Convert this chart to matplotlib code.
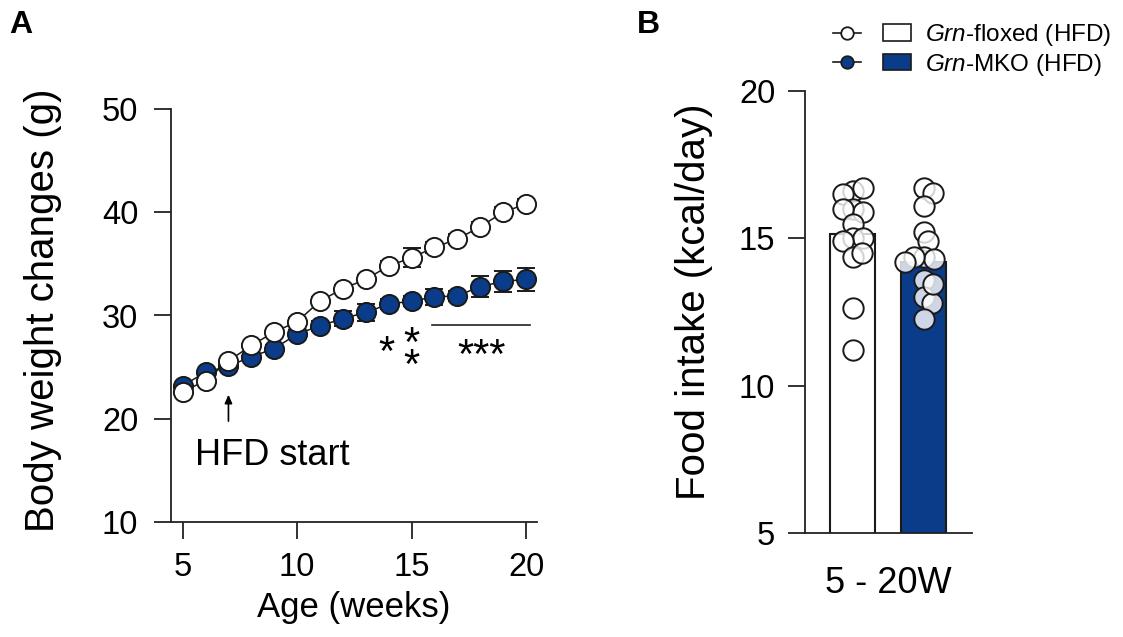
import matplotlib
matplotlib.use("Agg")
import matplotlib.pyplot as plt
from matplotlib.lines import Line2D
from matplotlib.patches import Patch
from matplotlib.legend_handler import HandlerTuple
import numpy as np

plt.rcParams['font.family'] = ['Liberation Sans', 'DejaVu Sans']
plt.rcParams['mathtext.fontset'] = 'custom'
plt.rcParams['mathtext.it'] = 'Liberation Sans:italic'
plt.rcParams['mathtext.rm'] = 'Liberation Sans'

# ---------------- data ----------------
weeks = [5, 6, 7, 8, 9, 10, 11, 12, 13, 14, 15, 16, 17, 18, 19, 20]
floxed_bw = [22.6, 23.7, 25.6, 27.1, 28.4, 29.4, 31.4, 32.6, 33.5, 34.8, 35.6, 36.6, 37.4, 38.6, 40.0, 40.8]
floxed_err = [0.3, 0.3, 0.3, 0.3, 0.3, 0.4, 0.4, 0.4, 0.4, 0.5, 0.9, 0.5, 0.5, 0.5, 0.5, 0.5]
mko_bw = [23.2, 24.5, 25.1, 26.0, 26.8, 28.2, 29.0, 29.7, 30.3, 31.1, 31.4, 31.8, 31.9, 32.8, 33.3, 33.5]
mko_err = [0.3, 0.3, 0.3, 0.3, 0.3, 0.4, 0.5, 0.7, 0.8, 0.5, 0.5, 0.8, 0.5, 1.0, 1.0, 1.1]

groups = ['Grn-floxed (HFD)', 'Grn-MKO (HFD)']
group_labels = ['$\\it{Grn}$-floxed (HFD)', '$\\it{Grn}$-MKO (HFD)']
intake_mean = [15.14, 14.2]
floxed_intake = [16.6, 16.7, 16.5, 16.0, 15.9, 16.0, 15.5, 15.0, 15.0, 14.9, 14.35, 14.5, 12.65, 11.2]
mko_intake = [16.7, 16.55, 16.1, 15.2, 14.9, 14.35, 14.3, 14.35, 14.2, 13.6, 13.0, 12.8, 12.25, 13.45]
bar_category = '5 - 20W'

blue = '#0b3c8a'
edge = '#1a1a1a'

W, H = 1123, 637
fig = plt.figure(figsize=(W / 100, H / 100), dpi=100)

def fpos(l, r, t, b):
    return [l / W, 1 - b / H, (r - l) / W, (b - t) / H]

tick_fs = 23.5
label_fs = 29

# ---------------- panel A ----------------
axA = fig.add_axes(fpos(171, 537, 109, 522))
ms = 13.8
axA.errorbar(weeks, mko_bw, yerr=mko_err, fmt='-o', color=edge, lw=1.1,
             markersize=ms, markerfacecolor=blue, markeredgecolor=edge, markeredgewidth=1.4,
             ecolor=edge, elinewidth=1.5, capsize=6.5, capthick=1.5, zorder=3)
axA.errorbar(weeks, floxed_bw, yerr=floxed_err, fmt='-o', color=edge, lw=1.1,
             markersize=ms, markerfacecolor='white', markeredgecolor=edge, markeredgewidth=1.4,
             ecolor=edge, elinewidth=1.5, capsize=6.5, capthick=1.5, zorder=4)
axA.set_xlim(4.49, 20.48)
axA.set_ylim(10, 50)
axA.set_xticks([5, 10, 15, 20])
axA.set_yticks([10, 20, 30, 40, 50])
for s in ['top', 'right']:
    axA.spines[s].set_visible(False)
for s in ['left', 'bottom']:
    axA.spines[s].set_linewidth(1.3)
    axA.spines[s].set_color('#222222')
axA.tick_params(axis='both', direction='out', length=12.5, width=1.3, color='#222222',
                labelsize=tick_fs)
axA.tick_params(axis='y', pad=11)
axA.tick_params(axis='x', pad=9)
axA.set_xlabel('Age (weeks)', fontsize=25, labelpad=6)
axA.set_ylabel('Body weight changes (g)', fontsize=label_fs)
axA.yaxis.set_label_coords(-0.298, 0.513)

# annotations
axA.annotate('', xy=(7, 22.6), xytext=(7, 19.5),
             arrowprops=dict(arrowstyle='-|>,head_length=0.5,head_width=0.22', color='black', lw=1.2))
axA.text(5.54, 16.4, 'HFD start', fontsize=26, ha='left', va='center')
axA.plot([15.89, 20.17], [29.08, 29.08], color='#222222', lw=1.2)
axA.text(18.07, 26.0, '***', fontsize=30, ha='center', va='center')
axA.text(13.9, 26.3, '*', fontsize=30, ha='center', va='center')
axA.text(15.0, 26.1, '*\n*', fontsize=30, ha='center', va='center', linespacing=0.42)

# ---------------- panel B ----------------
axB = fig.add_axes(fpos(805, 972, 91, 533))
xpos = [0, 1]
bw = 45 / 71
axB.bar(xpos[0], intake_mean[0], width=bw, color='white', edgecolor=edge, linewidth=1.5, zorder=2)
axB.bar(xpos[1], intake_mean[1], width=bw, color=blue, edgecolor=edge, linewidth=1.5, zorder=2)

def swarm_offsets(values, px_y, px_x, min_d, step=1.0):
    placed = []
    offs = []
    for v in values:
        y = v * px_y
        k = 0
        while True:
            cands = [0.0] if k == 0 else [k * step, -k * step]
            found = None
            for c in cands:
                if all((c - px) ** 2 + (y - py) ** 2 >= min_d ** 2 for px, py in placed):
                    found = c
                    break
            if found is not None:
                placed.append((found, y))
                offs.append(found / px_x)
                break
            k += 1
    return offs

px_y = 442 / 15.0
px_x = 71.0
for i, vals in enumerate([floxed_intake, mko_intake]):
    offs = swarm_offsets(vals, px_y, px_x, 9.5)
    axB.scatter(np.array(offs) + xpos[i], vals, s=215, facecolor=(1, 1, 1, 0.8),
                edgecolor=edge, linewidth=1.4, zorder=5, clip_on=False)

axB.set_xlim(-0.669, 1.683)
axB.set_ylim(5, 20)
axB.set_yticks([5, 10, 15, 20])
axB.set_xticks([0.5])
axB.set_xticklabels([bar_category])
for s in ['top', 'right']:
    axB.spines[s].set_visible(False)
for s in ['left', 'bottom']:
    axB.spines[s].set_linewidth(1.3)
    axB.spines[s].set_color('#222222')
axB.tick_params(axis='y', direction='out', length=12.5, width=1.3, color='#222222',
                labelsize=tick_fs, pad=9)
axB.tick_params(axis='x', length=0, labelsize=26, pad=24)
axB.set_ylabel('Food intake (kcal/day)', fontsize=label_fs)
axB.yaxis.set_label_coords(-0.551, 0.523)

# legend
h1 = (Line2D([], [], color=edge, lw=1.2, marker='o', markersize=9, markerfacecolor='white',
             markeredgecolor=edge, markeredgewidth=1.3),
      Patch(facecolor='white', edgecolor=edge, linewidth=1.2))
h2 = (Line2D([], [], color=edge, lw=1.2, marker='o', markersize=9, markerfacecolor=blue,
             markeredgecolor=edge, markeredgewidth=1.3),
      Patch(facecolor=blue, edgecolor=edge, linewidth=1.2))
fig.legend([h1, h2], group_labels, handler_map={tuple: HandlerTuple(ndivide=None, pad=0.9)},
           loc='upper left', bbox_to_anchor=(833 / W, 1 - 22 / H), frameon=False,
           fontsize=17.5, handlelength=3.2, handleheight=0.65, handletextpad=0.6,
           labelspacing=0.15, borderpad=0, borderaxespad=0)

# panel letters
fig.text(21 / W, 1 - 25 / H, 'A', fontsize=23, fontweight='bold', ha='center', va='center')
fig.text(648 / W, 1 - 25 / H, 'B', fontsize=23, fontweight='bold', ha='center', va='center')

fig.savefig('out.png', dpi=100)
